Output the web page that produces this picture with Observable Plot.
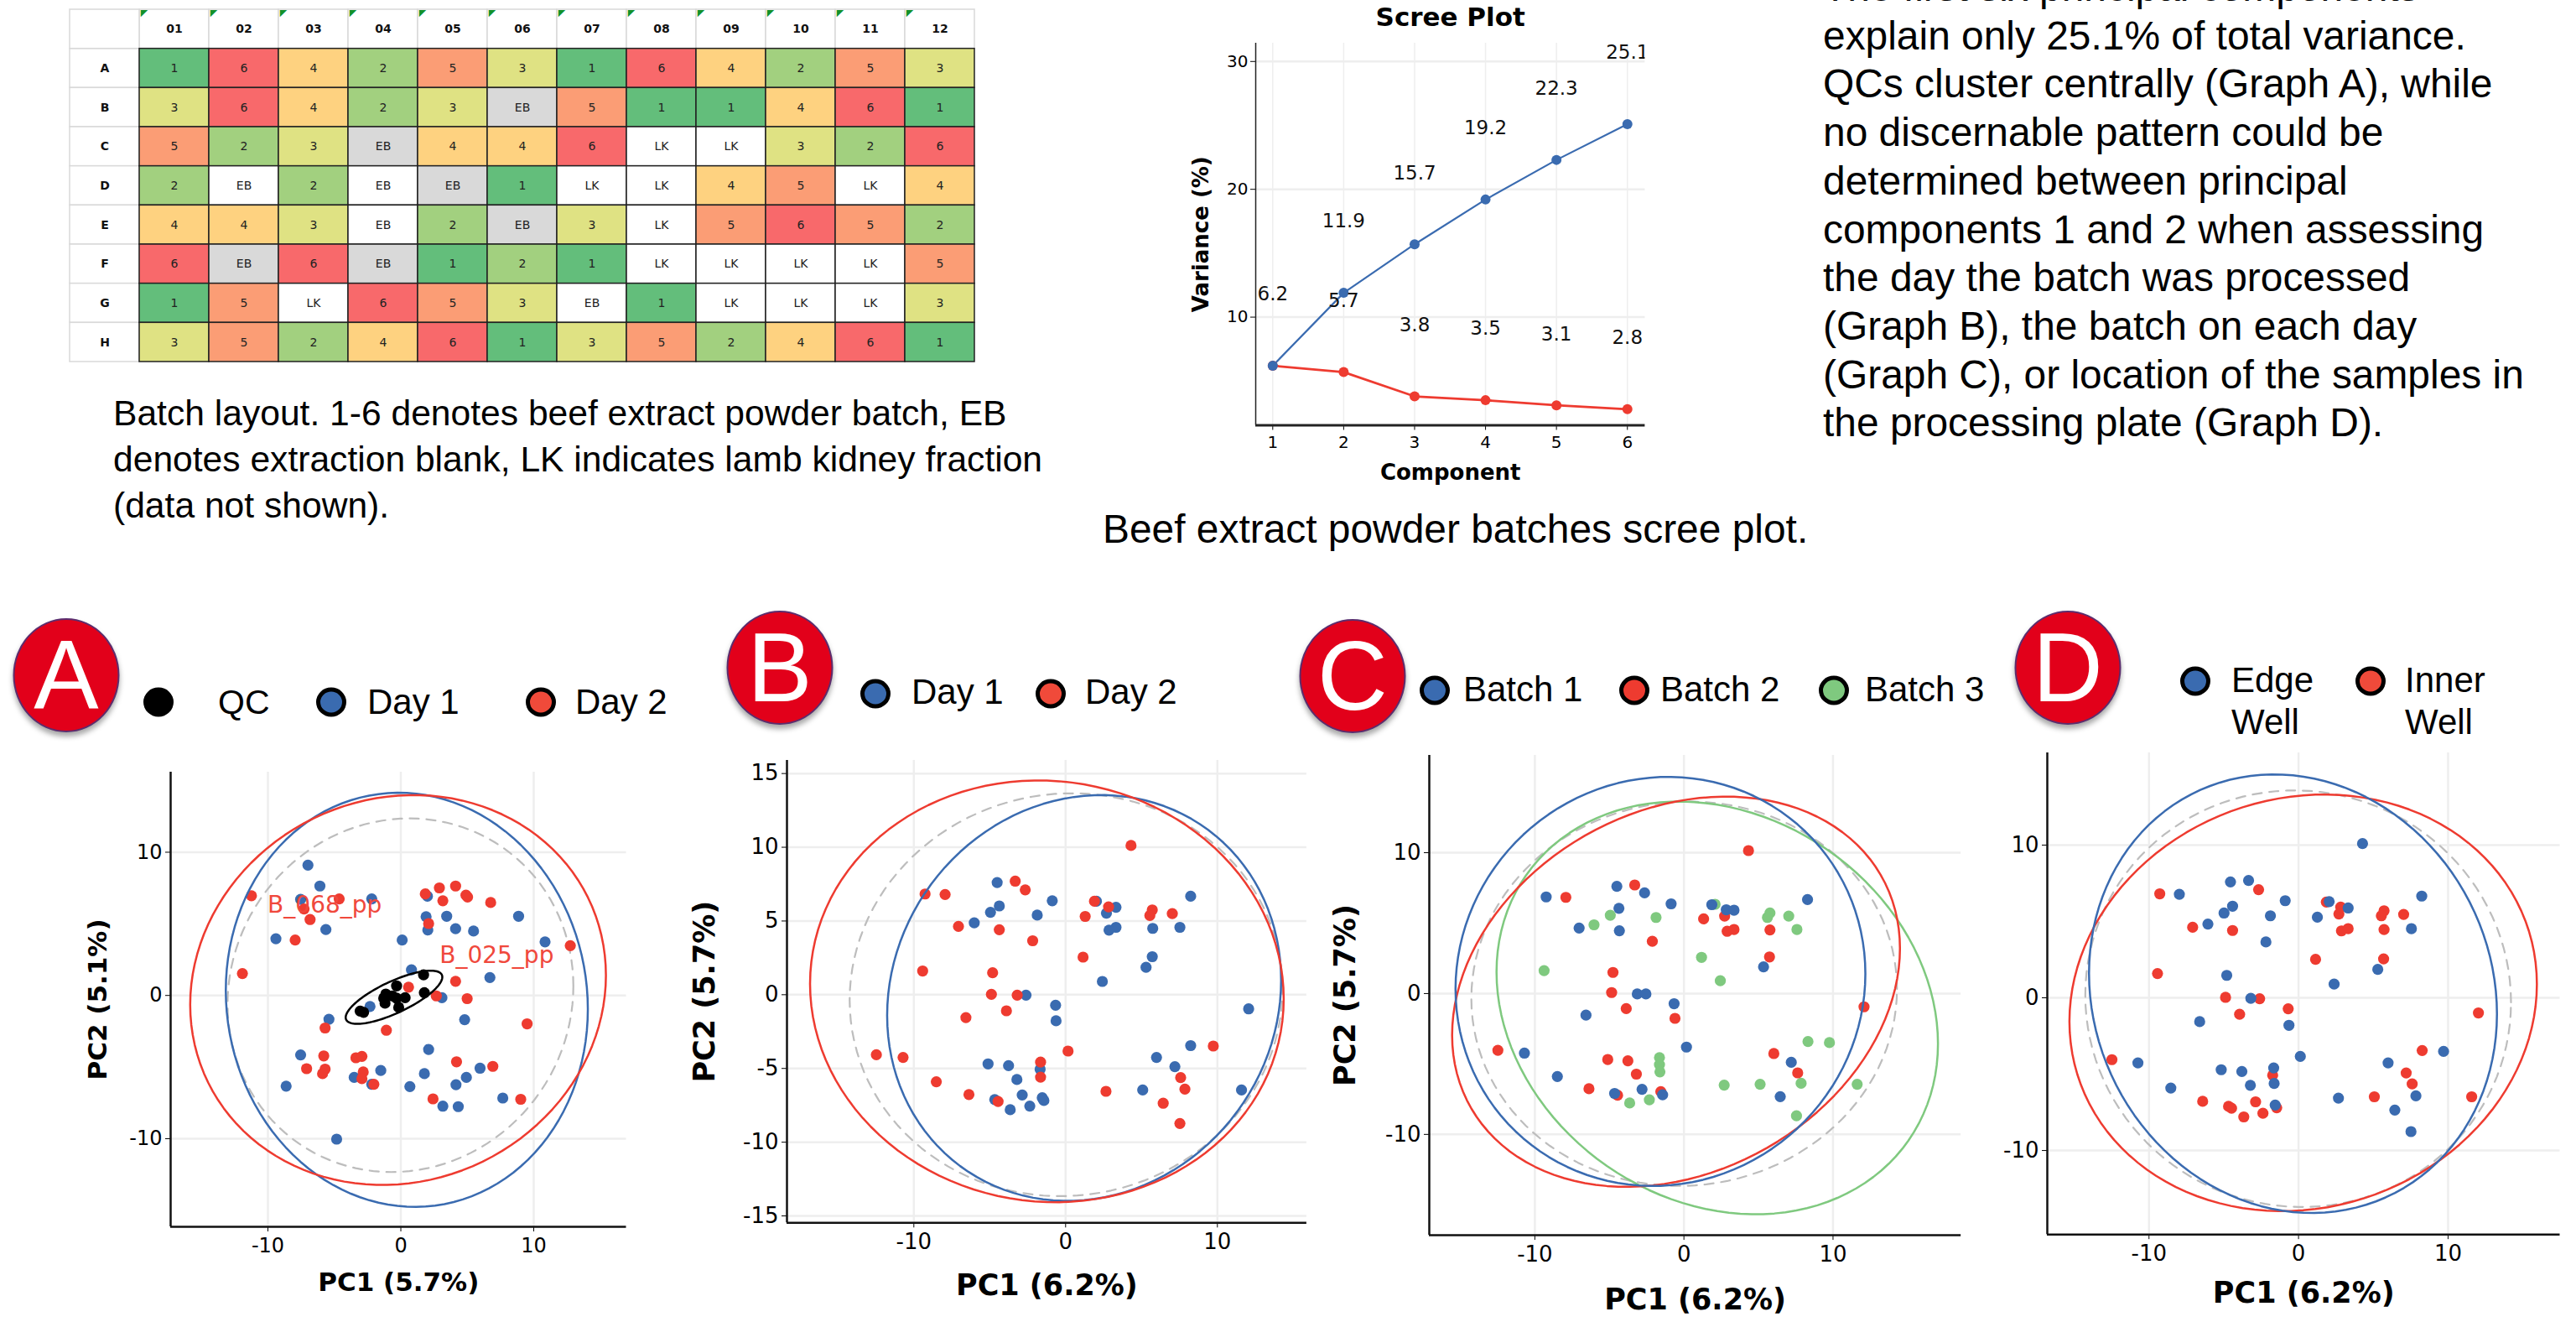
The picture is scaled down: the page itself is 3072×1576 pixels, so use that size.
<!DOCTYPE html>
<html><head><meta charset="utf-8">
<script src="https://cdn.jsdelivr.net/npm/d3@7"></script>
<script src="https://cdn.jsdelivr.net/npm/@observablehq/plot@0.6"></script>
<style>
html,body{margin:0;padding:0;background:#fff}
#page{position:relative;width:3072px;height:1576px;overflow:hidden;background:#fff;font-family:"Liberation Sans",sans-serif;color:#000}
.t{position:absolute;white-space:nowrap;transform:translateY(-50%);line-height:1}
.mk{position:absolute;box-sizing:border-box;border:5.5px solid #000;border-radius:50%;transform:translate(-50%,-50%)}
.badge{position:absolute;box-sizing:border-box;background:#E2001A;border:2px solid #5c2d6e;border-radius:50%;transform:translate(-50%,-50%);box-shadow:0 5px 6px rgba(0,0,0,.35);color:#fff;display:flex;align-items:center;justify-content:center;font-size:116px;line-height:1}
</style></head><body><div id="page"></div>
<script>
// ---------- plate layout ----------
const plateCols = ["01","02","03","04","05","06","07","08","09","10","11","12"];
const plateRows = ["A","B","C","D","E","F","G","H"];
// "EB" grey blank, "EBw" white blank, "LK" lamb kidney
const plateA = ["1","6","4","2","5","3","1","6","4","2","5","3"];
const plateB = ["3","6","4","2","3","EB","5","1","1","4","6","1"];
const plateC = ["5","2","3","EB","4","4","6","LK","LK","3","2","6"];
const plateD = ["2","EBw","2","EBw","EB","1","LK","LK","4","5","LK","4"];
const plateE = ["4","4","3","EBw","2","EB","3","LK","5","6","5","2"];
const plateF = ["6","EB","6","EB","1","2","1","LK","LK","LK","LK","5"];
const plateG = ["1","5","LK","6","5","3","EBw","1","LK","LK","LK","3"];
const plateH = ["3","5","2","4","6","1","3","5","2","4","6","1"];
const plateColors = {"1":"#63BE7B","2":"#A2D07F","3":"#DFE283","4":"#FED280","5":"#FB9D75","6":"#F8696B","EB":"#D9D9D9","EBw":"#FFFFFF","LK":"#FFFFFF"};

// ---------- scree ----------
const screeComponents = [1,2,3,4,5,6];
const screeCumulative = [6.2,11.9,15.7,19.2,22.3,25.1];
const screeIndividual = [6.2,5.7,3.8,3.5,3.1,2.8];

// ---------- Panel A: PC1 5.7 / PC2 5.1 ----------
const aDay1 = [[-6.99,9.1],[-6.09,7.64],[-7.54,6.71],[-2.19,6.74],[2,6.93],[1.9,5.5],[3.45,5.53],[2.03,4.57],[4.12,4.66],[5.47,4.5],[8.86,5.53],[10.85,3.74],[-5.64,4.6],[-9.4,3.96],[0.1,3.87],[0.8,1.79],[6.7,1.25],[3.09,-0.16],[4.8,-1.69],[-2.32,-0.77],[-5.41,-1.66],[2.09,-3.77],[-7.54,-4.15],[-1.51,-5.24],[-3.51,-5.72],[-2.19,-6.2],[-8.63,-6.33],[0.68,-6.36],[1.77,-5.46],[4.15,-6.23],[4.93,-5.72],[5.96,-5.08],[7.67,-7.16],[3.16,-7.73],[4.32,-7.76],[-4.83,-10.03]];
const aDay2 = [[-11.24,6.96],[-4.64,6.74],[-7.28,6.04],[-6.83,5.3],[-7.95,3.87],[-11.92,1.53],[1.84,7.09],[2.9,7.51],[4.12,7.64],[4.9,7],[5.02,6.87],[3.16,6.61],[6.76,6.49],[2.09,5.02],[12.75,3.48],[0.58,0.58],[4.12,0.99],[2.67,-0.03],[4.99,-0.22],[9.5,-1.98],[-5.7,-2.27],[-1.09,-2.43],[-5.8,-4.22],[-3.38,-4.35],[-2.93,-4.25],[-7.09,-5.11],[-5.7,-5.14],[-5.89,-5.46],[-2.83,-5.34],[-2.93,-5.81],[-2.03,-6.2],[4.19,-4.63],[6.92,-4.95],[2.42,-7.22],[9.02,-7.25]];
const aQC = [[1.71,1.44],[-0.32,0.67],[-1.13,0.1],[-1.29,-0.19],[-0.64,-0.03],[-0.32,-0.19],[0.32,-0.16],[-1.19,-0.54],[-0.16,-0.83],[1.77,0.19],[-3.06,-1.09],[-2.8,-1.18]];

// ---------- Panel B: PC1 6.2 / PC2 5.7 ----------
const bDay1 = [[-4.51,7.61],[-4.37,6.02],[-4.95,5.59],[-6.02,4.88],[-1.87,5.4],[-0.88,6.37],[2.03,6.34],[2.69,5.53],[3.32,5.93],[3.32,4.57],[2.86,4.38],[5.74,4.5],[7.53,4.57],[8.24,6.68],[5.71,2.58],[5.3,1.86],[2.42,0.9],[-2.61,-0.03],[-0.66,-0.71],[-0.63,-1.77],[12.06,-0.96],[8.24,-3.45],[5.99,-4.25],[7.2,-4.88],[5.08,-6.46],[11.59,-6.46],[-5.11,-4.69],[-3.76,-4.81],[-3.21,-5.75],[-1.68,-5.06],[-2.86,-6.8],[-4.67,-7.11],[-3.65,-7.8],[-2.36,-7.55],[-1.54,-6.99],[-1.43,-7.17]];
const bDay2 = [[-9.26,6.83],[-7.94,6.8],[-3.32,7.7],[-2.66,7.11],[-7.06,4.63],[-4.37,4.41],[-2.17,3.66],[-9.42,1.61],[-4.81,1.49],[-4.89,0.03],[-3.19,-0.03],[-3.9,-1.09],[-6.57,-1.55],[-12.47,-4.07],[-10.71,-4.25],[-8.52,-5.9],[-6.37,-6.77],[-4.45,-7.24],[-1.65,-4.57],[-1.65,-5.59],[0.16,-3.82],[2.66,-6.55],[4.31,10.12],[1.9,6.34],[2.83,5.96],[1.29,5.31],[1.15,2.55],[5.71,5.75],[5.55,5.37],[7.03,5.5],[9.73,-3.48],[7.58,-5.62],[7.86,-6.4],[6.43,-7.36],[7.53,-8.73]];

// ---------- Panel C ----------
const cBatch1 = [[-9.24,6.86],[-4.5,7.61],[-2.64,7.15],[-4.36,6.05],[-0.86,6.37],[-7.03,4.65],[-4.33,4.46],[1.87,6.31],[2.84,5.95],[3.36,5.92],[8.29,6.67],[5.34,1.89],[-3.13,-0.03],[-2.55,-0.03],[-0.66,-0.72],[-6.57,-1.53],[0.17,-3.8],[-10.7,-4.23],[-8.49,-5.89],[-2.81,-6.8],[-4.65,-7.09],[-1.43,-7.19],[7.2,-4.88],[6.46,-7.32]];
const cBatch2 = [[-7.92,6.83],[-3.3,7.71],[-2.12,3.71],[1.32,5.3],[2.73,5.5],[2.9,4.42],[3.36,4.55],[5.77,4.52],[5.74,2.6],[4.33,10.15],[-4.76,1.5],[-4.85,0.07],[-3.87,-1.07],[-0.6,-1.76],[12.08,-0.94],[-12.48,-4.03],[-5.11,-4.68],[-3.76,-4.78],[-3.19,-5.72],[-6.37,-6.76],[-4.45,-7.22],[-1.55,-6.96],[6.03,-4.26],[7.63,-5.63]];
const cBatch3 = [[-6.03,4.88],[-4.94,5.56],[-1.87,5.4],[2.09,6.34],[5.77,5.72],[5.6,5.4],[7.03,5.5],[7.58,4.55],[1.18,2.57],[2.44,0.91],[-9.38,1.63],[-1.64,-4.55],[-1.64,-5.04],[-1.61,-5.56],[-3.64,-7.77],[-2.32,-7.54],[2.7,-6.5],[5.11,-6.44],[7.86,-6.37],[7.55,-8.68],[8.32,-3.41],[9.76,-3.48],[11.62,-6.44]];

// ---------- Panel D ----------
const dEdge = [[-7.97,6.78],[-4.55,7.59],[-3.34,7.68],[-4.41,6],[-4.98,5.55],[-6.06,4.83],[-1.88,5.37],[-0.89,6.36],[-2.18,3.66],[1.26,5.28],[2.05,6.3],[3.32,5.88],[8.24,6.66],[7.55,4.53],[4.28,10.1],[5.3,1.86],[2.38,0.9],[-4.8,1.47],[-3.19,-0.03],[-6.61,-1.56],[-0.64,-1.8],[0.12,-3.84],[-10.74,-4.26],[-8.54,-5.91],[-5.17,-4.71],[-3.79,-4.83],[-3.22,-5.73],[-1.66,-4.59],[-1.63,-5.61],[-1.56,-7.02],[2.67,-6.57],[5.99,-4.26],[7.85,-6.42],[6.44,-7.35],[7.52,-8.76],[9.7,-3.51]];
const dInner = [[-9.28,6.81],[-7.08,4.62],[-2.67,7.08],[-4.41,4.41],[1.86,6.27],[2.82,5.94],[2.7,5.49],[2.87,4.38],[3.32,4.53],[5.72,5.7],[5.54,5.37],[7.03,5.46],[5.72,4.47],[5.69,2.55],[1.14,2.52],[-9.43,1.59],[-4.88,0.03],[-2.6,-0.06],[-3.94,-1.08],[-0.69,-0.72],[12.03,-0.99],[-12.48,-4.05],[-1.73,-5.07],[-6.41,-6.78],[-4.68,-7.11],[-4.48,-7.23],[-3.66,-7.8],[-2.87,-6.81],[-2.38,-7.56],[-1.46,-7.2],[8.27,-3.45],[7.2,-4.92],[7.6,-5.64],[5.07,-6.48],[11.58,-6.48]];

// Confidence-ellipse extents: [xMin, xMax, yMin, yMax, x at the topmost point]
const aEllDay1 = [-13.17,14.07,-14.76,14.15,-0.16];
const aEllDay2 = [-15.85,15.43,-13.23,13.99,0.97];
const aEllAll  = [-13.04,12.98,-12.33,12.36,0.64];
const aEllQC   = [-4.15,3.12,-1.98,1.73,2.25];
const bEllDay1 = [-11.76,14.2,-13.98,13.54,2.34];
const bEllDay2 = [-16.84,14.37,-14.07,14.53,-1.79];
const bEllAll  = [-14.23,14.29,-13.66,13.66,0.41];
const cEll1 = [-15.32,12.17,-13.66,15.38,-1.06];
const cEll2 = [-15.55,14.49,-13.72,13.98,2.81];
const cEll3 = [-12.57,17.04,-15.67,13.63,-0.34];
const cEllAll = [-14.26,14.29,-13.66,13.63,0.37];
const dEllEdge = [-14.01,13.27,-14.09,14.63,-1.63];
const dEllInner = [-15.32,15.94,-13.97,13.31,1.71];
const dEllAll = [-14.26,14.21,-13.7,13.58,-0.27];

const BLUE = "#3A6BB0", RED = "#EE3B30", GREEN = "#7FC97F", GREY = "#BDBDBD";
const SANS = "DejaVu Sans";
const page = document.getElementById("page");

function place(svg, left, top){
  svg.style.position = "absolute"; svg.style.left = left + "px"; svg.style.top = top + "px";
  page.appendChild(svg);
}
function text(s, x, cy, size, extra){
  const d = document.createElement("div"); d.className = "t"; d.textContent = s;
  d.style.left = x + "px"; d.style.top = cy + "px"; d.style.fontSize = size + "px";
  if (extra) Object.assign(d.style, extra);
  page.appendChild(d); return d;
}
function marker(x, y, fill){
  const d = document.createElement("div"); d.className = "mk";
  d.style.cssText = `left:${x}px;top:${y}px;width:36px;height:35px;background:${fill}`;
  page.appendChild(d);
}
function badge(letter, x, y){
  const d = document.createElement("div"); d.className = "badge"; d.textContent = letter;
  d.style.left = x + "px"; d.style.top = y + "px"; d.style.width = "127px"; d.style.height = "136px";
  page.appendChild(d);
}
function outline([x0,x1,y0,y1,xTop]){
  const cx=(x0+x1)/2, cy=(y0+y1)/2, W=(x1-x0)/2, H=(y1-y0)/2, shear=Math.asin((xTop-cx)/W);
  return d3.range(0,361,3).map(a=>{const t=a*Math.PI/180; return [cx+W*Math.cos(t), cy+H*Math.sin(t+shear)];});
}

// ---------- plate table ----------
{
  const rows = [plateA,plateB,plateC,plateD,plateE,plateF,plateG,plateH];
  const cells = rows.flatMap((r,i)=>r.map((v,j)=>({row:plateRows[i],col:plateCols[j],v})));
  const hdr = [...plateCols.map(c=>({row:"",col:c,t:c})),...plateRows.map(r=>({row:r,col:"",t:r})),{row:"",col:"",t:""}];
  const svg = Plot.plot({
    width:1079,height:420,margin:0,
    style:{background:"transparent",overflow:"visible",maxWidth:"none"},
    x:{domain:["",...plateCols],padding:0,round:false,axis:null},
    y:{domain:["",...plateRows],padding:0,round:false,axis:null},
    color:{type:"identity"},
    marks:[
      Plot.cell(hdr,{x:"col",y:"row",fill:"#fff",stroke:"#d9d9d9",strokeWidth:1.5}),
      Plot.cell(cells,{x:"col",y:"row",fill:d=>plateColors[d.v],stroke:"#222",strokeWidth:1.5}),
      Plot.text(hdr,{x:"col",y:"row",text:"t",fontFamily:SANS,fontWeight:"bold",fontSize:14,fill:"#111"}),
      Plot.text(cells,{x:"col",y:"row",text:d=>d.v.slice(0,2),fontFamily:SANS,fontSize:14,fill:"#222"}),
      Plot.text(plateCols,{x:d=>d,y:()=>"",text:()=>"◤",dx:-36,dy:-19,fill:"#12912a",fontSize:11,fontFamily:SANS})
    ]
  });
  place(svg,82.6,11.4);
}

// ---------- scree ----------
{
  const cum = screeComponents.map((c,i)=>({c,v:screeCumulative[i]}));
  const ind = screeComponents.map((c,i)=>({c,v:screeIndividual[i]}));
  const L=1496.6,R=1961,T=51,B=506.5,ml=100,mr=6,mt=45,mb=80;
  const svg = Plot.plot({
    width:R-L+ml+mr,height:B-T+mt+mb,marginLeft:ml,marginRight:mr,marginTop:mt,marginBottom:mb,
    style:{background:"transparent",overflow:"visible",maxWidth:"none",fontFamily:SANS},
    x:{domain:[0.76,6.25],axis:null},
    y:{domain:[1.54,31.43],axis:null},
    marks:[
      Plot.gridX(screeComponents,{stroke:"#eeeeee",strokeOpacity:1,strokeWidth:1.5}),
      Plot.gridY([10,20,30],{stroke:"#eeeeee",strokeOpacity:1,strokeWidth:2.5}),
      Plot.axisX({ticks:screeComponents,tickFormat:d=>d,label:null,fontSize:20,tickSize:6,tickPadding:7}),
      Plot.axisY({ticks:[10,20,30],label:null,fontSize:20,tickSize:6,tickPadding:3}),
      Plot.ruleX([0.76],{stroke:"#222",strokeWidth:1.5}),
      Plot.ruleY([1.54],{stroke:"#222",strokeWidth:3}),
      Plot.line(cum,{x:"c",y:"v",stroke:BLUE,strokeWidth:2.2}),
      Plot.line(ind,{x:"c",y:"v",stroke:RED,strokeWidth:2.8}),
      Plot.dot(ind,{x:"c",y:"v",fill:RED,r:6}),
      Plot.dot(cum,{x:"c",y:"v",fill:BLUE,r:6}),
      Plot.text(cum,{x:"c",y:"v",text:d=>d.v.toFixed(1),dy:-85,fontSize:23,clip:"frame",fill:"#111"}),
      Plot.text(ind.slice(1),{x:"c",y:"v",text:d=>d.v.toFixed(1),dy:-85,fontSize:23,fill:"#111"}),
      Plot.text(["Scree Plot"],{text:d=>d,frameAnchor:"top",lineAnchor:"middle",dy:-30,fontWeight:"bold",fontSize:31}),
      Plot.text(["Component"],{text:d=>d,frameAnchor:"bottom",lineAnchor:"middle",dy:57,fontWeight:"bold",fontSize:26}),
      Plot.text(["Variance (%)"],{text:d=>d,frameAnchor:"left",textAnchor:"middle",lineAnchor:"middle",rotate:-90,dx:-65,fontWeight:"bold",fontSize:26})
    ]
  });
  place(svg,L-ml,T-mt);
}

// ---------- PCA panels ----------
function pca({L,R,T,B,xd,yd,yTicks,xTitle,yTitle,yTitleDx,xTitleDy,titleSize,tickSize,series,grey,extra=[]}){
  const ml=130,mr=8,mt=8,mb=100;
  const toPts = a=>a.map(([x,y])=>({x,y}));
  const marks = [
    Plot.gridX([-10,0,10],{stroke:"#eeeeee",strokeOpacity:1,strokeWidth:2.5}),
    Plot.gridY(yTicks,{stroke:"#eeeeee",strokeOpacity:1,strokeWidth:2.5}),
    Plot.line(outline(grey),{x:"0",y:"1",stroke:GREY,strokeWidth:2.2,strokeDasharray:"11,9"}),
    ...series.map(s=>Plot.dot(toPts(s.pts),{x:"x",y:"y",fill:s.color,r:6.6})),
    ...series.filter(s=>s.ell).map(s=>Plot.line(outline(s.ell),{x:"0",y:"1",stroke:s.lineColor||s.color,strokeWidth:2.5})),
    Plot.axisX({ticks:[-10,0,10],tickFormat:d=>d,label:null,fontSize:tickSize,tickSize:6,tickPadding:7}),
    Plot.axisY({ticks:yTicks,tickFormat:d=>d,label:null,fontSize:tickSize,tickSize:6,tickPadding:4}),
    Plot.ruleX([xd[0]],{stroke:"#111",strokeWidth:2.5}),
    Plot.ruleY([yd[0]],{stroke:"#111",strokeWidth:2.5}),
    Plot.text([xTitle],{text:d=>d,frameAnchor:"bottom",lineAnchor:"middle",dy:xTitleDy,fontWeight:"bold",fontSize:titleSize}),
    ...extra
  ];
  if (yTitle) marks.push(Plot.text([yTitle],{text:d=>d,frameAnchor:"left",textAnchor:"middle",lineAnchor:"middle",rotate:-90,dx:yTitleDx,fontWeight:"bold",fontSize:titleSize}));
  const svg = Plot.plot({
    width:R-L+ml+mr,height:B-T+mt+mb,marginLeft:ml,marginRight:mr,marginTop:mt,marginBottom:mb,
    style:{background:"transparent",overflow:"visible",maxWidth:"none",fontFamily:SANS},
    x:{domain:xd,axis:null},y:{domain:yd,axis:null},marks
  });
  place(svg,L-ml,T-mt);
}

const aOutliers = [{x:-5.73,y:6.29,t:"B_068_pp"},{x:7.21,y:2.78,t:"B_025_pp"}];
pca({L:202.5,R:746,T:920,B:1462,xd:[-17.32,16.97],yd:[-16.15,15.59],yTicks:[-10,0,10],
  xTitle:"PC1 (5.7%)",yTitle:"PC2 (5.1%)",yTitleDx:-86,xTitleDy:67,titleSize:31,tickSize:24,grey:aEllAll,
  series:[{pts:aDay1,color:BLUE,ell:aEllDay1},{pts:aDay2,color:RED,ell:aEllDay2},{pts:aQC,color:"#000",ell:aEllQC}],
  extra:[Plot.text(aOutliers,{x:"x",y:"y",text:"t",fill:"#F0483C",fontSize:28})]});
pca({L:937.8,R:1557.7,T:905.6,B:1456.9,xd:[-18.36,15.89],yd:[-15.47,15.89],yTicks:[-15,-10,-5,0,5,10,15],
  xTitle:"PC1 (6.2%)",yTitle:"PC2 (5.7%)",yTitleDx:-98,xTitleDy:75,titleSize:35,tickSize:26,grey:bEllAll,
  series:[{pts:bDay1,color:BLUE,ell:bEllDay1},{pts:bDay2,color:RED,ell:bEllDay2}]});
pca({L:1704.3,R:2338.5,T:900.1,B:1472.2,xd:[-17.08,18.59],yd:[-17.16,16.91],yTicks:[-10,0,10],
  xTitle:"PC1 (6.2%)",yTitle:"PC2 (5.7%)",yTitleDx:-100,xTitleDy:77,titleSize:35,tickSize:26,grey:cEllAll,
  series:[{pts:cBatch3,color:GREEN,ell:cEll3},{pts:cBatch2,color:RED,ell:cEll2},{pts:cBatch1,color:BLUE,ell:cEll1}]});
pca({L:2440.5,R:3052,T:897.4,B:1471.6,xd:[-16.8,17.49],yd:[-15.5,16.04],yTicks:[-10,0,10],
  xTitle:"PC1 (6.2%)",yTitle:null,xTitleDy:70,titleSize:35,tickSize:26,grey:dEllAll,
  series:[{pts:dInner,color:RED,ell:dEllInner},{pts:dEdge,color:BLUE,ell:dEllEdge}]});

// ---------- captions ----------
["Batch layout. 1-6 denotes beef extract powder batch, EB",
 "denotes extraction blank, LK indicates lamb kidney fraction",
 "(data not shown)."].forEach((s,i)=>text(s,135,492+i*55,42.6));
text("Beef extract powder batches scree plot.",1315,631,47.9);
["The first six principal components",
 "explain only 25.1% of total variance.",
 "QCs cluster centrally (Graph A), while",
 "no discernable pattern could be",
 "determined between principal",
 "components 1 and 2 when assessing",
 "the day the batch was processed",
 "(Graph B), the batch on each day",
 "(Graph C), or location of the samples in",
 "the processing plate (Graph D)."].forEach((s,i)=>text(s,2174,-15+i*57.7,47.9));

// ---------- badges and legends ----------
badge("A",79,804.6); badge("B",930,796.4); badge("C",1613,805.7); badge("D",2466,796.4);
marker(188.8,837,"#000"); text("QC",260,837,41);
marker(395.4,837,"#3A6BB0"); text("Day 1",438,837,42);
marker(645.4,837,"#F04A3A"); text("Day 2",686,837,42);
marker(1044.3,827,"#3A6BB0"); text("Day 1",1087,825,42);
marker(1252.7,827,"#F04A3A"); text("Day 2",1294,825,42);
marker(1711.4,822.6,"#3A6BB0"); text("Batch 1",1745,821.5,42);
marker(1948.7,822.6,"#EE3B30"); text("Batch 2",1980,821.5,42);
marker(2187,822.6,"#7FC97F"); text("Batch 3",2224,821.5,42);
marker(2618.3,811.7,"#3A6BB0"); text("Edge",2661,810.6,42); text("Well",2661,860.8,42);
marker(2826.6,811.7,"#F04A3A"); text("Inner",2868,810.6,42); text("Well",2868,860.8,42);
</script></body></html>
